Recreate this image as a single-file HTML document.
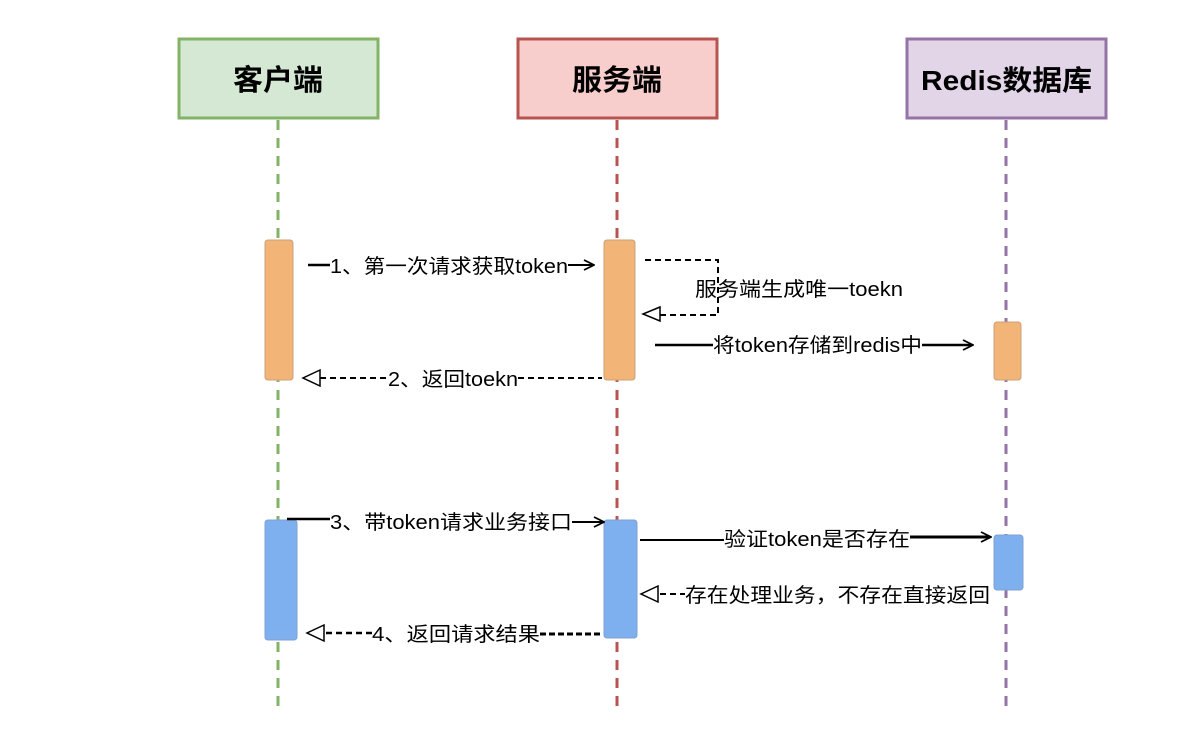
<!DOCTYPE html>
<html><head><meta charset="utf-8"><style>
body{margin:0;background:#fff}
svg text{font-family:"Liberation Sans","Noto Sans CJK SC",sans-serif}
</style></head><body>
<svg width="1198" height="732" xmlns="http://www.w3.org/2000/svg">
<defs>
<marker id="o" markerWidth="12" markerHeight="12" refX="10" refY="6" orient="auto" markerUnits="userSpaceOnUse"><path d="M1,1 L11,6 L1,11" fill="none" stroke="#000" stroke-width="1.8"/></marker>
</defs>
<rect x="179" y="39" width="199" height="79" fill="#d5e8d4" stroke="#82b366" stroke-width="3"/>
<rect x="518" y="39" width="199" height="79" fill="#f8cecc" stroke="#b85450" stroke-width="3"/>
<rect x="907" y="39" width="199" height="79" fill="#e1d5e7" stroke="#9673a6" stroke-width="3"/>
<text x="233" y="90" font-size="29" font-weight="bold" textLength="90" lengthAdjust="spacingAndGlyphs">客户端</text>
<text x="572" y="90" font-size="29" font-weight="bold" textLength="90" lengthAdjust="spacingAndGlyphs">服务端</text>
<text x="921" y="90" font-size="28" font-weight="bold" textLength="171" lengthAdjust="spacingAndGlyphs">Redis数据库</text>
<g stroke-width="3" stroke-dasharray="10,8">
<line x1="278" y1="120" x2="278" y2="708" stroke="#82b366"/>
<line x1="617" y1="120" x2="617" y2="708" stroke="#b85450"/>
<line x1="1006" y1="120" x2="1006" y2="708" stroke="#9673a6"/>
</g>
<g stroke="#c8a07a" stroke-width="1">
<rect x="265" y="240" width="28" height="140" rx="3" fill="#f2b477"/>
<rect x="604" y="240" width="31" height="140" rx="3" fill="#f2b477"/>
<rect x="994" y="322" width="27" height="58" rx="3" fill="#f2b477"/>
</g>
<g stroke="#7fa0d0" stroke-width="1">
<rect x="265" y="520" width="32" height="120" rx="3" fill="#7eb0f0"/>
<rect x="604" y="520" width="33" height="118" rx="3" fill="#7eb0f0"/>
<rect x="994" y="535" width="29" height="55" rx="3" fill="#7eb0f0"/>
</g>
<g font-size="20" fill="#000">
<line x1="308" y1="265" x2="330" y2="265" stroke="#000" stroke-width="2.5"/>
<text x="330" y="273" textLength="238" lengthAdjust="spacingAndGlyphs">1、第一次请求获取token</text>
<line x1="568" y1="265" x2="593" y2="265" stroke="#000" stroke-width="2" marker-end="url(#o)"/>
<path d="M645,260 H718 V315 H660" fill="none" stroke="#000" stroke-width="2" stroke-dasharray="6,4"/>
<path d="M660,307 L643,314 L660,321 Z" fill="#fff" stroke="#000" stroke-width="1.5"/>
<text x="695" y="296" textLength="208" lengthAdjust="spacingAndGlyphs">服务端生成唯一toekn</text>
<line x1="655" y1="345" x2="713" y2="345" stroke="#000" stroke-width="2.5"/>
<text x="713" y="352" textLength="209" lengthAdjust="spacingAndGlyphs">将token存储到redis中</text>
<line x1="922" y1="345" x2="972" y2="345" stroke="#000" stroke-width="2.5" marker-end="url(#o)"/>
<line x1="320" y1="378" x2="388" y2="378" stroke="#000" stroke-width="2" stroke-dasharray="6,4"/>
<path d="M320,370 L303,378 L320,386 Z" fill="#fff" stroke="#000" stroke-width="1.5"/>
<text x="388" y="386" textLength="130" lengthAdjust="spacingAndGlyphs">2、返回toekn</text>
<line x1="518" y1="378" x2="602" y2="378" stroke="#000" stroke-width="2" stroke-dasharray="6,4"/>
<line x1="287" y1="519" x2="330" y2="519" stroke="#000" stroke-width="2.5"/>
<text x="330" y="529" textLength="242" lengthAdjust="spacingAndGlyphs">3、带token请求业务接口</text>
<line x1="572" y1="522" x2="603" y2="522" stroke="#000" stroke-width="2" marker-end="url(#o)"/>
<line x1="640" y1="540" x2="724" y2="540" stroke="#000" stroke-width="2"/>
<text x="724" y="546" textLength="186" lengthAdjust="spacingAndGlyphs">验证token是否存在</text>
<line x1="910" y1="537" x2="990" y2="537" stroke="#000" stroke-width="3" marker-end="url(#o)"/>
<path d="M658,586 L641,594 L658,602 Z" fill="#fff" stroke="#000" stroke-width="1.5"/>
<line x1="660" y1="594" x2="685" y2="594" stroke="#000" stroke-width="2" stroke-dasharray="6,4"/>
<text x="685" y="602" textLength="305" lengthAdjust="spacingAndGlyphs">存在处理业务，不存在直接返回</text>
<path d="M324,625 L307,633 L324,641 Z" fill="#fff" stroke="#000" stroke-width="1.5"/>
<line x1="326" y1="633" x2="372" y2="633" stroke="#000" stroke-width="2.5" stroke-dasharray="6,4"/>
<text x="372" y="641" textLength="168" lengthAdjust="spacingAndGlyphs">4、返回请求结果</text>
<line x1="540" y1="634" x2="603" y2="634" stroke="#000" stroke-width="3" stroke-dasharray="6,3"/>
</g>
</svg>
</body></html>
